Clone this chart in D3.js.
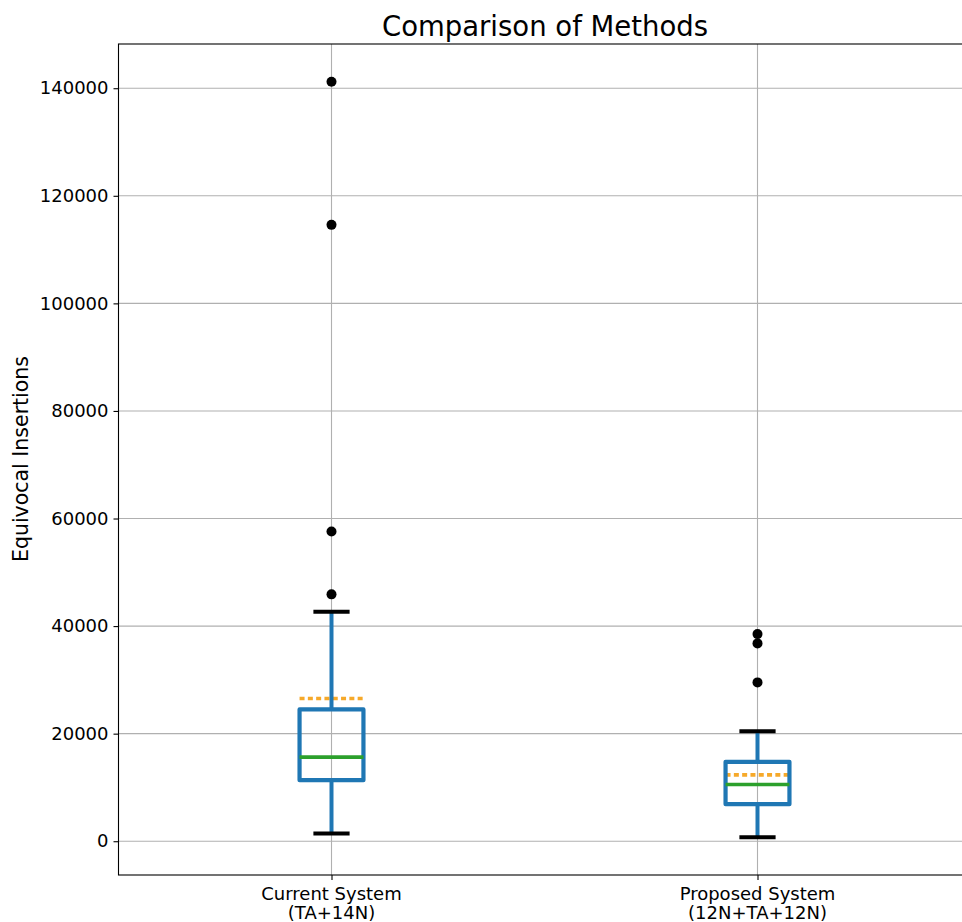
<!DOCTYPE html>
<html>
<head>
<meta charset="utf-8">
<script src="https://cdn.jsdelivr.net/npm/d3@7"></script>
<style>
  body { margin: 0; background: #fff; }
  svg text { font-family: "DejaVu Sans", sans-serif; fill: #000; }
</style>
</head>
<body>
<svg id="chart" width="962" height="922"></svg>
<script>
// box statistics
var categories = [["Current System", "(TA+14N)"], ["Proposed System", "(12N+TA+12N)"]];
var whiskerLow = [1420, 744];
var q1 = [11350, 6880];
var median = [15630, 10550];
var q3 = [24500, 14760];
var mean = [26550, 12340];
var whiskerHigh = [42670, 20465];
var outliers = [[45900, 57580, 114600, 141200], [29530, 36780, 38510]];
var yTicks = [0, 20000, 40000, 60000, 80000, 100000, 120000, 140000];

var svg = d3.select("#chart");
var plotLeft = 118.5, plotTop = 44, plotBottom = 875, plotRight = 970.5;

// matplotlib style 5% margins around all drawn values
var allVals = whiskerLow.concat(whiskerHigh, d3.merge(outliers));
var dMin = d3.min(allVals), dMax = d3.max(allVals);
var pad = (dMax - dMin) * 0.05;

var xScale = d3.scaleLinear().domain([0.5, 2.5]).range([plotLeft, plotRight]);
var yScale = d3.scaleLinear().domain([dMin - pad, dMax + pad]).range([plotBottom, plotTop]);

var boxW = 0.15, capW = 0.085;

// grid
svg.append("g").selectAll("line").data(yTicks).enter().append("line")
    .attr("x1", plotLeft).attr("x2", plotRight)
    .attr("y1", function(d) { return yScale(d); })
    .attr("y2", function(d) { return yScale(d); })
    .attr("stroke", "#b0b0b0").attr("stroke-width", 1.1);
svg.append("g").selectAll("line").data(categories).enter().append("line")
    .attr("x1", function(d, i) { return xScale(i + 1); })
    .attr("x2", function(d, i) { return xScale(i + 1); })
    .attr("y1", plotTop).attr("y2", plotBottom)
    .attr("stroke", "#b0b0b0").attr("stroke-width", 1.1);

// axes
var yAxis = d3.axisLeft(yScale).tickValues(yTicks).tickSize(5).tickPadding(5).tickFormat(d3.format("d"));
var gy = svg.append("g").attr("transform", "translate(" + plotLeft + ",0)").call(yAxis);
gy.select(".domain").remove();
gy.selectAll(".tick line").attr("stroke", "#000").attr("stroke-width", 1.1);
gy.selectAll(".tick text").style("font-size", "18px").style("font-family", "DejaVu Sans");

var xAxis = d3.axisBottom(xScale).tickValues([1, 2]).tickSize(5).tickFormat("");
var gx = svg.append("g").attr("transform", "translate(0," + plotBottom + ")").call(xAxis);
gx.select(".domain").remove();
gx.selectAll(".tick line").attr("stroke", "#000").attr("stroke-width", 1.1);

svg.append("g").selectAll("text").data(categories).enter().append("text")
    .attr("text-anchor", "middle")
    .style("font-size", "18px")
    .each(function(d, i) {
        var t = d3.select(this);
        d.forEach(function(line, j) {
            t.append("tspan")
                .attr("x", xScale(i + 1))
                .attr("y", 900 + j * 19)
                .text(line);
        });
    });

// boxes
var groups = svg.append("g").selectAll("g").data(categories).enter().append("g");

// mean line sits under the whiskers
groups.append("line")
    .attr("x1", function(d, i) { return xScale(i + 1 - boxW / 2); })
    .attr("x2", function(d, i) { return xScale(i + 1 + boxW / 2); })
    .attr("y1", function(d, i) { return yScale(mean[i]); })
    .attr("y2", function(d, i) { return yScale(mean[i]); })
    .attr("stroke", "#f6a92a").attr("stroke-width", 3.6)
    .attr("stroke-dasharray", "5,3.3");

groups.append("line")
    .attr("x1", function(d, i) { return xScale(i + 1); })
    .attr("x2", function(d, i) { return xScale(i + 1); })
    .attr("y1", function(d, i) { return yScale(whiskerLow[i]); })
    .attr("y2", function(d, i) { return yScale(q1[i]); })
    .attr("stroke", "#1f77b4").attr("stroke-width", 4);
groups.append("line")
    .attr("x1", function(d, i) { return xScale(i + 1); })
    .attr("x2", function(d, i) { return xScale(i + 1); })
    .attr("y1", function(d, i) { return yScale(q3[i]); })
    .attr("y2", function(d, i) { return yScale(whiskerHigh[i]); })
    .attr("stroke", "#1f77b4").attr("stroke-width", 4);

groups.append("rect")
    .attr("x", function(d, i) { return xScale(i + 1 - boxW / 2); })
    .attr("width", xScale(1 + boxW) - xScale(1))
    .attr("y", function(d, i) { return yScale(q3[i]); })
    .attr("height", function(d, i) { return yScale(q1[i]) - yScale(q3[i]); })
    .attr("fill", "none")
    .attr("stroke", "#1f77b4").attr("stroke-width", 4.2)
    .attr("stroke-linejoin", "round");

groups.append("line")
    .attr("x1", function(d, i) { return xScale(i + 1 - boxW / 2); })
    .attr("x2", function(d, i) { return xScale(i + 1 + boxW / 2); })
    .attr("y1", function(d, i) { return yScale(median[i]); })
    .attr("y2", function(d, i) { return yScale(median[i]); })
    .attr("stroke", "#2ca02c").attr("stroke-width", 3.6);

[whiskerLow, whiskerHigh].forEach(function(arr) {
    groups.append("line")
        .attr("x1", function(d, i) { return xScale(i + 1 - capW / 2); })
        .attr("x2", function(d, i) { return xScale(i + 1 + capW / 2); })
        .attr("y1", function(d, i) { return yScale(arr[i]); })
        .attr("y2", function(d, i) { return yScale(arr[i]); })
        .attr("stroke", "#000").attr("stroke-width", 4);
});

groups.each(function(d, i) {
    d3.select(this).selectAll("circle").data(outliers[i]).enter().append("circle")
        .attr("cx", xScale(i + 1))
        .attr("cy", function(v) { return yScale(v); })
        .attr("r", 5)
        .attr("fill", "#000");
});

// frame: left, top, bottom spines (right one falls off the canvas)
svg.append("rect")
    .attr("x", plotLeft).attr("y", plotTop)
    .attr("width", plotRight - plotLeft).attr("height", plotBottom - plotTop)
    .attr("fill", "none").attr("stroke", "#000").attr("stroke-width", 1.1);

// labels
svg.append("text")
    .attr("x", 545).attr("y", 36)
    .attr("text-anchor", "middle")
    .style("font-size", "27.5px")
    .text("Comparison of Methods");

svg.append("text")
    .attr("transform", "translate(28,459) rotate(-90)")
    .attr("text-anchor", "middle")
    .style("font-size", "20.5px")
    .text("Equivocal Insertions");
</script>
</body>
</html>
